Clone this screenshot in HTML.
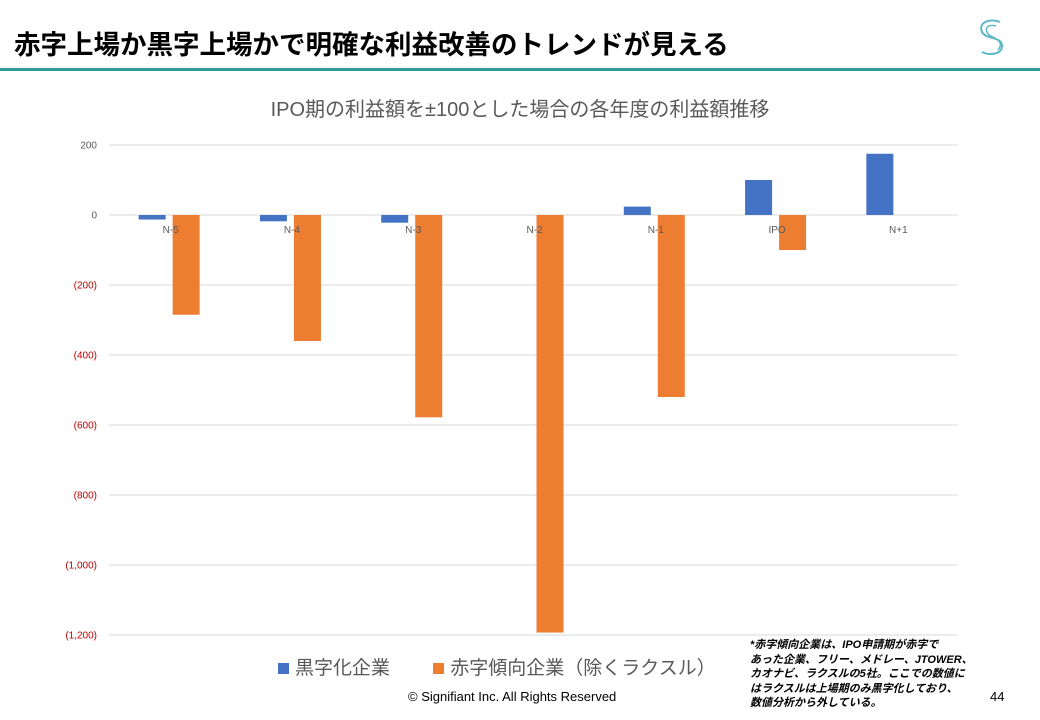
<!DOCTYPE html>
<html><head><meta charset="utf-8"><style>
body{margin:0;width:1040px;height:720px;background:#fff;overflow:hidden;position:relative;font-family:"Liberation Sans","Noto Sans CJK JP",sans-serif;}
.abs{position:absolute;}
</style></head><body>
<div class="abs" style="left:14px;top:23px;font-size:26.5px;font-weight:bold;color:#000;white-space:nowrap;">赤字上場か黒字上場かで明確な利益改善のトレンドが見える</div>
<svg class="abs" style="left:972px;top:16px" width="40" height="42" viewBox="0 0 40 42">
<path d="M28 6 C18 2 6 6 10 16 C14 24 30 20 30 30 C30 38 18 40 10 36" fill="none" stroke="#5bb8c4" stroke-width="2"/>
<path d="M24 10 C16 8 12 12 16 18 C20 22 34 24 26 34" fill="none" stroke="#5bb8c4" stroke-width="1.5"/>
</svg>
<div class="abs" style="left:0;top:68px;width:1040px;height:3px;background:#2a9d9c;"></div>
<div class="abs" style="left:0;width:1040px;top:93px;text-align:center;font-size:20px;color:#595959;">IPO期の利益額を±100とした場合の各年度の利益額推移</div>
<svg class="abs" id="chart" style="left:0;top:0" width="1040" height="720"></svg>
<div class="abs" style="left:278px;top:653px;font-size:19px;color:#595959;white-space:nowrap;">
<span><span style="display:inline-block;width:11px;height:11px;background:#4472c4;margin-right:6px"></span>黒字化企業</span>
<span style="margin-left:38px"><span style="display:inline-block;width:11px;height:11px;background:#ed7d31;margin-right:6px"></span>赤字傾向企業（除くラクスル）</span>
</div>
<div class="abs" style="left:750px;top:638px;font-size:11px;line-height:14.5px;font-style:italic;font-weight:bold;color:#000;white-space:nowrap;">*赤字傾向企業は、IPO申請期が赤字で<br>あった企業、フリー、メドレー、JTOWER、<br>カオナビ、ラクスルの5社。ここでの数値に<br>はラクスルは上場期のみ黒字化しており、<br>数値分析から外している。</div>
<div class="abs" style="left:408px;top:689px;font-size:13px;color:#000;">© Signifiant Inc. All Rights Reserved</div>
<div class="abs" style="left:990px;top:689px;font-size:13px;color:#000;">44</div>
<script>
const categories=["N-5","N-4","N-3","N-2","N-1","IPO","N+1"];
const profitSeries=[-13,-18,-22,0,24,100,175];
const lossSeries=[-285,-360,-578,-1193,-520,-100,null];
const tickValues=[200,0,-200,-400,-600,-800,-1000,-1200];
const tickLabels=["200","0","(200)","(400)","(600)","(800)","(1,000)","(1,200)"];
const svg=document.getElementById('chart');const NS="http://www.w3.org/2000/svg";
const x0=109,x1=958,yTop=145,yBot=635,vMax=200,vMin=-1200;
const y=v=>yTop+(vMax-v)/(vMax-vMin)*(yBot-yTop);
const band=(x1-x0)/categories.length;
const cx=i=>x0+band*(i+0.5);
function mk(t,a){const e=document.createElementNS(NS,t);for(const k in a)e.setAttribute(k,a[k]);svg.appendChild(e);return e;}
tickValues.forEach((v,i)=>{
 const g=mk('line',{x1:x0,x2:x1,y1:y(v),y2:y(v),stroke:'#d9d9d9','stroke-width':1});
 
 
 const t=mk('text',{x:97,y:y(v)+3.5,'text-anchor':'end','font-size':10,fill:v<0?'#c00000':'#595959','font-family':'Liberation Sans, sans-serif'});
 t.textContent=tickLabels[i];
 
 
});
const bw=27;
categories.forEach((c,i)=>{
 const pv=profitSeries[i];
 if(pv!=null&&pv!==0){const r=mk('rect',{x:cx(i)-31,y:Math.min(y(pv),y(0)),width:bw,height:Math.abs(y(pv)-y(0)),fill:'#4472c4'});
 
 }
 const lv=lossSeries[i];
 if(lv!=null&&lv!==0){const r=mk('rect',{x:cx(i)+3,y:Math.min(y(lv),y(0)),width:bw,height:Math.abs(y(lv)-y(0)),fill:'#ed7d31'});
 
 }
});
categories.forEach((c,i)=>{
 const t=mk('text',{x:cx(i)+1,y:233,'text-anchor':'middle','font-size':10,fill:'#595959','font-family':'Liberation Sans, sans-serif'});
 t.textContent=c;
 
 
});
</script>
</body></html>
